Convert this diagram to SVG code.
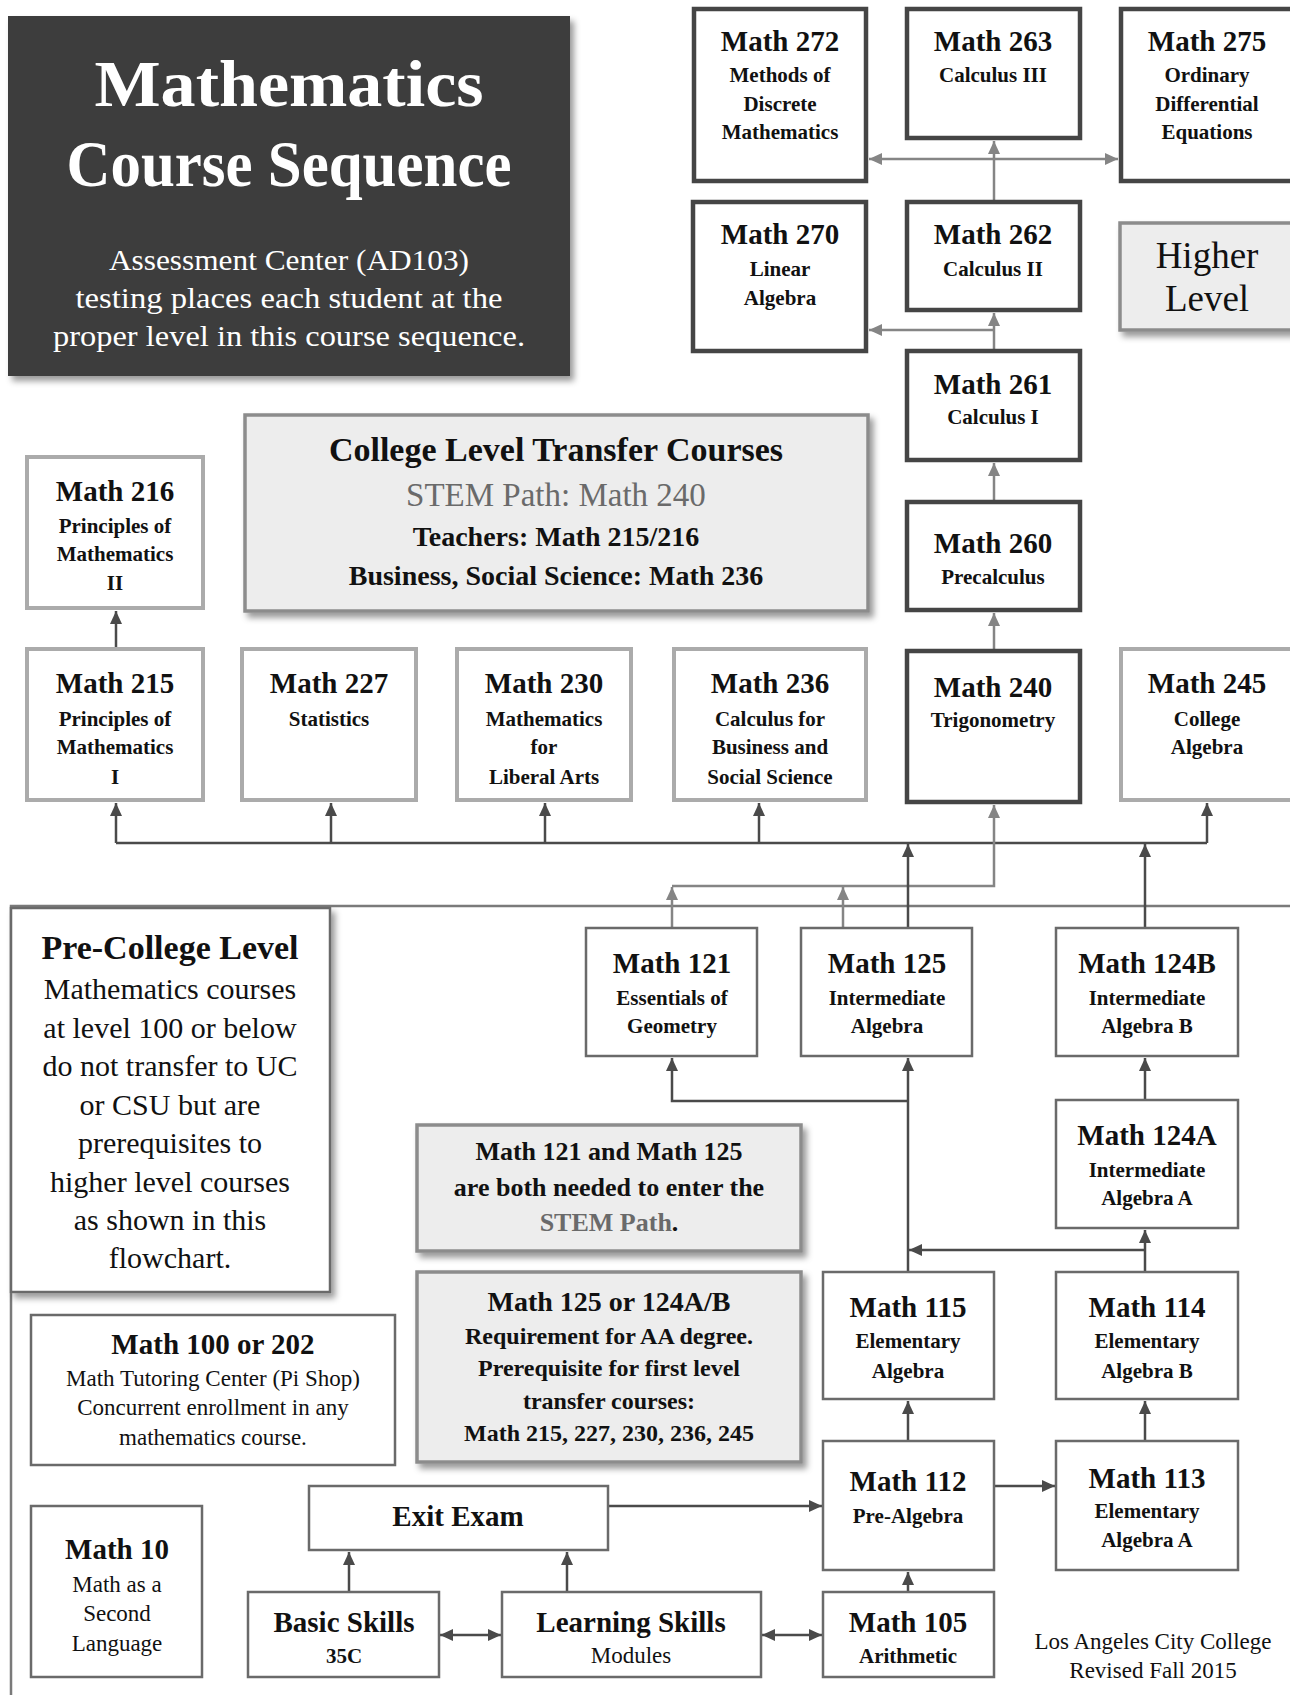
<svg xmlns="http://www.w3.org/2000/svg" width="1290" height="1695" viewBox="0 0 1290 1695">
<style>
text{font-family:"Liberation Serif","Times New Roman",serif;text-anchor:middle;fill:#111}
.hi{fill:#fff;stroke:#454545;stroke-width:4.5}
.tr{fill:#fff;stroke:#ababab;stroke-width:4}
.pc{fill:#fff;stroke:#6a6a6a;stroke-width:2.5}
.note{fill:#ededed;stroke:#8c8c8c;stroke-width:3.5}
.t{font-size:29px;font-weight:bold}
.s{font-size:21px;font-weight:bold}
.r{font-size:23px}
.p{font-size:30px}
.w{fill:#fff}
.cd{fill:none;stroke:#4a4a4a;stroke-width:2.5}
.cg{fill:none;stroke:#858585;stroke-width:2.5}
.ad{marker-end:url(#ad)}
.ag{marker-end:url(#ag)}
</style>
<defs>
<filter id="sh" x="-10%" y="-10%" width="125%" height="125%"><feDropShadow dx="4" dy="5" stdDeviation="3" flood-color="#000" flood-opacity="0.4"/></filter>
<marker id="ad" markerUnits="userSpaceOnUse" markerWidth="14" markerHeight="12" refX="13" refY="6" orient="auto-start-reverse"><path d="M0,0 L13,6 L0,12 z" fill="#4a4a4a"/></marker>
<marker id="ag" markerUnits="userSpaceOnUse" markerWidth="14" markerHeight="12" refX="13" refY="6" orient="auto-start-reverse"><path d="M0,0 L13,6 L0,12 z" fill="#858585"/></marker>
</defs>
<rect width="1290" height="1695" fill="#fff"/>

<!-- Pre-college frame -->
<path d="M11,1700 V906 H1300" fill="none" stroke="#7a7a7a" stroke-width="2.5"/>

<g id="title">
<rect x="8" y="16" width="562" height="360" fill="#3d3d3d" filter="url(#sh)"/>
<text class="w" x="289" y="106" font-size="66" font-weight="bold" textLength="389" lengthAdjust="spacingAndGlyphs">Mathematics</text>
<text class="w" x="289" y="186" font-size="66" font-weight="bold" textLength="445" lengthAdjust="spacingAndGlyphs">Course Sequence</text>
<text class="w" x="289" y="270" font-size="29" textLength="360" lengthAdjust="spacingAndGlyphs">Assessment Center (AD103)</text>
<text class="w" x="289" y="308" font-size="29" textLength="427" lengthAdjust="spacingAndGlyphs">testing places each student at the</text>
<text class="w" x="289" y="346" font-size="29" textLength="472" lengthAdjust="spacingAndGlyphs">proper level in this course sequence.</text>
</g>

<g id="connectors">
<path class="cg ag" d="M994,202 V141"/>
<path class="cg ag" d="M994,159 H869"/>
<path class="cg ag" d="M994,159 H1118"/>
<path class="cg ag" d="M994,351 V313"/>
<path class="cg ag" d="M994,330 H869"/>
<path class="cg ag" d="M994,502 V463"/>
<path class="cg ag" d="M994,651 V613"/>
<path class="cd ad" d="M116,649 V611"/>
<path class="cd" d="M116,843 H1207"/>
<path class="cd ad" d="M116,843 V803"/>
<path class="cd ad" d="M331,843 V803"/>
<path class="cd ad" d="M545,843 V803"/>
<path class="cd ad" d="M759,843 V803"/>
<path class="cd ad" d="M1207,843 V803"/>
<path class="cg ag" d="M672,886 H994 V805"/>
<path class="cg ag" d="M672,928 V887"/>
<path class="cg ag" d="M843,928 V887"/>
<path class="cd ad" d="M908,928 V844"/>
<path class="cd ad" d="M1145,928 V844"/>
<path class="cd ad" d="M908,1101 H672 V1058"/>
<path class="cd ad" d="M908,1272 V1058"/>
<path class="cd ad" d="M1145,1100 V1058"/>
<path class="cd ad" d="M1145,1272 V1230"/>
<path class="cd ad" d="M1145,1250 H909"/>
<path class="cd ad" d="M908,1441 V1401"/>
<path class="cd ad" d="M1145,1441 V1401"/>
<path class="cd ad" d="M995,1486 H1055"/>
<path class="cd ad" d="M609,1506 H822"/>
<path class="cd ad" d="M908,1592 V1572"/>
<path class="cd ad" d="M349,1592 V1552"/>
<path class="cd ad" d="M567,1592 V1552"/>
<path class="cd ad" d="M440,1635 H501" marker-start="url(#ad)"/>
<path class="cd ad" d="M762,1635 H822" marker-start="url(#ad)"/>
</g>

<g id="m272"><rect class="hi" x="694" y="9" width="172" height="172"/>
<text class="t" x="780" y="51">Math 272</text><text class="s" x="780" y="82">Methods of</text><text class="s" x="780" y="111">Discrete</text><text class="s" x="780" y="139">Mathematics</text></g>
<g id="m263"><rect class="hi" x="907" y="9" width="173" height="129"/>
<text class="t" x="993" y="51">Math 263</text><text class="s" x="993" y="82">Calculus III</text></g>
<g id="m275"><rect class="hi" x="1121" y="9" width="175" height="172"/>
<text class="t" x="1207" y="51">Math 275</text><text class="s" x="1207" y="82">Ordinary</text><text class="s" x="1207" y="111">Differential</text><text class="s" x="1207" y="139">Equations</text></g>
<g id="m270"><rect class="hi" x="693" y="202" width="173" height="149"/>
<text class="t" x="780" y="244">Math 270</text><text class="s" x="780" y="276">Linear</text><text class="s" x="780" y="305">Algebra</text></g>
<g id="m262"><rect class="hi" x="907" y="202" width="173" height="108"/>
<text class="t" x="993" y="244">Math 262</text><text class="s" x="993" y="276">Calculus II</text></g>
<g id="higher"><rect class="note" x="1120" y="223" width="176" height="107" filter="url(#sh)"/>
<text x="1207" y="268" font-size="37">Higher</text><text x="1207" y="311" font-size="37">Level</text></g>
<g id="m261"><rect class="hi" x="907" y="351" width="173" height="109"/>
<text class="t" x="993" y="394">Math 261</text><text class="s" x="993" y="424">Calculus I</text></g>
<g id="m260"><rect class="hi" x="907" y="502" width="173" height="108"/>
<text class="t" x="993" y="553">Math 260</text><text class="s" x="993" y="584">Precalculus</text></g>

<g id="college"><rect class="note" x="245" y="415" width="623" height="196" stroke="#ababab" stroke-width="5" filter="url(#sh)"/>
<text x="556" y="461" font-size="34" font-weight="bold">College Level Transfer Courses</text>
<text x="556" y="506" font-size="33" style="fill:#6a6a6a">STEM Path: Math 240</text>
<text x="556" y="546" font-size="28" font-weight="bold">Teachers: Math 215/216</text>
<text x="556" y="585" font-size="28" font-weight="bold">Business, Social Science: Math 236</text></g>

<g id="m216"><rect class="tr" x="27" y="457" width="176" height="151"/>
<text class="t" x="115" y="501">Math 216</text><text class="s" x="115" y="533">Principles of</text><text class="s" x="115" y="561">Mathematics</text><text class="s" x="115" y="590">II</text></g>
<g id="m215"><rect class="tr" x="27" y="649" width="176" height="151"/>
<text class="t" x="115" y="693">Math 215</text><text class="s" x="115" y="726">Principles of</text><text class="s" x="115" y="754">Mathematics</text><text class="s" x="115" y="784">I</text></g>
<g id="m227"><rect class="tr" x="242" y="649" width="174" height="151"/>
<text class="t" x="329" y="693">Math 227</text><text class="s" x="329" y="726">Statistics</text></g>
<g id="m230"><rect class="tr" x="457" y="649" width="174" height="151"/>
<text class="t" x="544" y="693">Math 230</text><text class="s" x="544" y="726">Mathematics</text><text class="s" x="544" y="754">for</text><text class="s" x="544" y="784">Liberal Arts</text></g>
<g id="m236"><rect class="tr" x="674" y="649" width="192" height="151"/>
<text class="t" x="770" y="693">Math 236</text><text class="s" x="770" y="726">Calculus for</text><text class="s" x="770" y="754">Business and</text><text class="s" x="770" y="784">Social Science</text></g>
<g id="m240"><rect class="hi" x="907" y="651" width="173" height="151"/>
<text class="t" x="993" y="697">Math 240</text><text class="s" x="993" y="727">Trigonometry</text></g>
<g id="m245"><rect class="tr" x="1121" y="649" width="175" height="151"/>
<text class="t" x="1207" y="693">Math 245</text><text class="s" x="1207" y="726">College</text><text class="s" x="1207" y="754">Algebra</text></g>

<g id="precollege"><rect x="11" y="908" width="319" height="384" fill="#fff" stroke="#6a6a6a" stroke-width="2.5" filter="url(#sh)"/>
<text x="170" y="959" font-size="34" font-weight="bold">Pre-College Level</text>
<text class="p" x="170" y="999">Mathematics courses</text>
<text class="p" x="170" y="1038">at level 100 or below</text>
<text class="p" x="170" y="1076">do not transfer to UC</text>
<text class="p" x="170" y="1115">or CSU but are</text>
<text class="p" x="170" y="1153">prerequisites to</text>
<text class="p" x="170" y="1192">higher level courses</text>
<text class="p" x="170" y="1230">as shown in this</text>
<text class="p" x="170" y="1268">flowchart.</text></g>

<g id="m121"><rect class="pc" x="586" y="928" width="171" height="128"/>
<text class="t" x="672" y="973">Math 121</text><text class="s" x="672" y="1005">Essentials of</text><text class="s" x="672" y="1033">Geometry</text></g>
<g id="m125"><rect class="pc" x="801" y="928" width="171" height="128"/>
<text class="t" x="887" y="973">Math 125</text><text class="s" x="887" y="1005">Intermediate</text><text class="s" x="887" y="1033">Algebra</text></g>
<g id="m124b"><rect class="pc" x="1056" y="928" width="182" height="128"/>
<text class="t" x="1147" y="973">Math 124B</text><text class="s" x="1147" y="1005">Intermediate</text><text class="s" x="1147" y="1033">Algebra B</text></g>
<g id="m124a"><rect class="pc" x="1056" y="1100" width="182" height="128"/>
<text class="t" x="1147" y="1145">Math 124A</text><text class="s" x="1147" y="1177">Intermediate</text><text class="s" x="1147" y="1205">Algebra A</text></g>

<g id="note1"><rect class="note" x="417" y="1125" width="384" height="126" filter="url(#sh)"/>
<text x="609" y="1160" font-size="26" font-weight="bold">Math 121 and Math 125</text>
<text x="609" y="1196" font-size="26" font-weight="bold">are both needed to enter the</text>
<text x="609" y="1231" font-size="26" font-weight="bold"><tspan style="fill:#6a6a6a">STEM Path</tspan>.</text></g>
<g id="note2"><rect class="note" x="417" y="1272" width="384" height="190" filter="url(#sh)"/>
<text x="609" y="1311" font-size="28" font-weight="bold">Math 125 or 124A/B</text>
<text x="609" y="1344" font-size="24" font-weight="bold">Requirement for AA degree.</text>
<text x="609" y="1376" font-size="24" font-weight="bold">Prerequisite for first level</text>
<text x="609" y="1409" font-size="24" font-weight="bold">transfer courses:</text>
<text x="609" y="1441" font-size="24" font-weight="bold">Math 215, 227, 230, 236, 245</text></g>

<g id="m115"><rect class="pc" x="823" y="1272" width="171" height="127"/>
<text class="t" x="908" y="1317">Math 115</text><text class="s" x="908" y="1348">Elementary</text><text class="s" x="908" y="1378">Algebra</text></g>
<g id="m114"><rect class="pc" x="1056" y="1272" width="182" height="127"/>
<text class="t" x="1147" y="1317">Math 114</text><text class="s" x="1147" y="1348">Elementary</text><text class="s" x="1147" y="1378">Algebra B</text></g>
<g id="m112"><rect class="pc" x="823" y="1441" width="171" height="129"/>
<text class="t" x="908" y="1491">Math 112</text><text class="s" x="908" y="1523">Pre-Algebra</text></g>
<g id="m113"><rect class="pc" x="1056" y="1441" width="182" height="129"/>
<text class="t" x="1147" y="1488">Math 113</text><text class="s" x="1147" y="1518">Elementary</text><text class="s" x="1147" y="1547">Algebra A</text></g>
<g id="m105"><rect class="pc" x="823" y="1592" width="171" height="85"/>
<text class="t" x="908" y="1632">Math 105</text><text class="s" x="908" y="1663">Arithmetic</text></g>

<g id="m100"><rect class="pc" x="31" y="1315" width="364" height="150"/>
<text class="t" x="213" y="1354">Math 100 or 202</text>
<text class="r" x="213" y="1386">Math Tutoring Center (Pi Shop)</text>
<text class="r" x="213" y="1415">Concurrent enrollment in any</text>
<text class="r" x="213" y="1445">mathematics course.</text></g>
<g id="m10"><rect class="pc" x="31" y="1506" width="171" height="171"/>
<text class="t" x="117" y="1559">Math 10</text>
<text class="r" x="117" y="1592">Math as a</text>
<text class="r" x="117" y="1621">Second</text>
<text class="r" x="117" y="1651">Language</text></g>

<g id="exit"><rect class="pc" x="309" y="1486" width="299" height="64"/>
<text class="t" x="458" y="1526">Exit Exam</text></g>
<g id="basic"><rect class="pc" x="248" y="1592" width="191" height="85"/>
<text class="t" x="344" y="1632">Basic Skills</text><text class="s" x="344" y="1663">35C</text></g>
<g id="learning"><rect class="pc" x="502" y="1592" width="259" height="85"/>
<text class="t" x="631" y="1632">Learning Skills</text><text class="r" x="631" y="1663">Modules</text></g>

<g id="footer">
<text class="r" x="1153" y="1649">Los Angeles City College</text>
<text class="r" x="1153" y="1678">Revised Fall 2015</text></g>
</svg>
